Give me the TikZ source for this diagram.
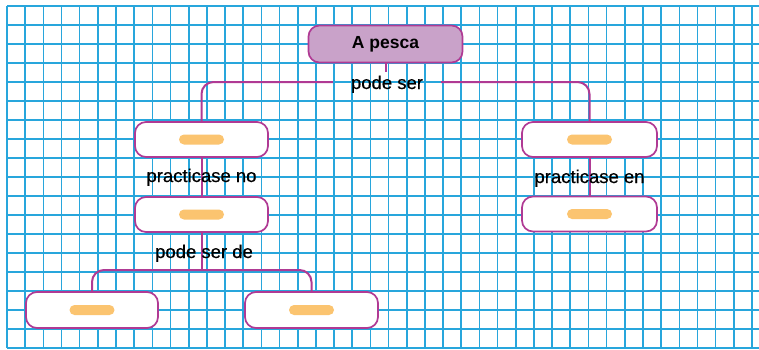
\documentclass[tikz,border=0pt]{standalone}
\usepackage{fontspec}
\setmainfont{Liberation Sans}
\newfontfamily\lblfont{Liberation Sans}[FakeBold=0.5]
\definecolor{gridc}{RGB}{40,166,220}
\definecolor{pinkline}{RGB}{176,58,148}
\definecolor{topfill}{RGB}{201,162,201}
\definecolor{barc}{RGB}{251,196,112}
\tikzset{
  gridline/.style={draw=gridc, line width=1.6},
  conn/.style={draw=pinkline, line width=2},
  boxnode/.style={draw=pinkline, line width=1.7, fill=white, rounded corners=11, minimum width=133, minimum height=35, inner sep=0},
  topnode/.style={boxnode, fill=topfill, minimum width=154, minimum height=37, font=\fontsize{17.5}{20}\selectfont\bfseries},
  barnode/.style={fill=barc, rounded corners=5, minimum width=45, minimum height=10, inner sep=0},
  lbl/.style={font=\fontsize{18.5}{20}\selectfont\lblfont, inner sep=1, anchor=base},
}
\begin{document}
\begin{tikzpicture}[x=1pt,y=-1pt]
\useasboundingbox (0,0) rectangle (759,349);
\fill[white] (0,0) rectangle (759,349);
\begin{scope}
\clip (0,0) rectangle (759,349);
\foreach \i in {0,...,41} \draw[gridline] ({7+\i*18.17},6) -- ({7+\i*18.17},348);
\foreach \j in {0,...,18} \draw[gridline] (7,{6+\j*19}) -- (760,{6+\j*19});
\end{scope}
% nodes
\node[topnode] (pesca) at (385.5,44) {A pesca};
\node[boxnode] (L1) at (201.5,139.5) {};
\node[boxnode] (L2) at (201.5,214.5) {};
\node[boxnode, minimum width=135] (R1) at (589.5,139.5) {};
\node[boxnode, minimum width=135] (R2) at (589.5,214) {};
\node[boxnode, minimum width=132, minimum height=36] (B1) at (92,310) {};
\node[boxnode, minimum height=36] (B2) at (311.5,310) {};
\foreach \n in {L1,L2,R1,R2,B1,B2} \node[barnode] (bar\n) at (\n) {};
% labels (placeholders for connector geometry)
\node[lbl, inner xsep=18, inner ysep=3] (ps) at (387,89) {\phantom{pode ser}};
\coordinate (j1) at (387,82);
\coordinate (j3) at (201.5,270);
% connectors
\draw[conn] (pesca.south) -- (pesca.south |- ps.north);
\draw[conn, rounded corners=12] (L1.north) |- (j1 -| ps.west);
\draw[conn, rounded corners=12] (R1.north) |- (j1 -| ps.east);
\draw[conn] (L1.south) -- (L2.north);
\draw[conn] (R1.south) -- (R2.north);
\draw[conn] (L2.south) -- (j3);
\draw[conn, rounded corners=12] (B1.north) |- (j3) -| (B2.north);
% labels on top
\node[lbl] (pstext) at (387,89) {pode ser};
\node[lbl] (pno) at (201.5,182) {practicase no};
\node[lbl] (pen) at (589.5,183) {practicase en};
\node[lbl] (psd) at (204,258) {pode ser de};
\end{tikzpicture}
\end{document}
